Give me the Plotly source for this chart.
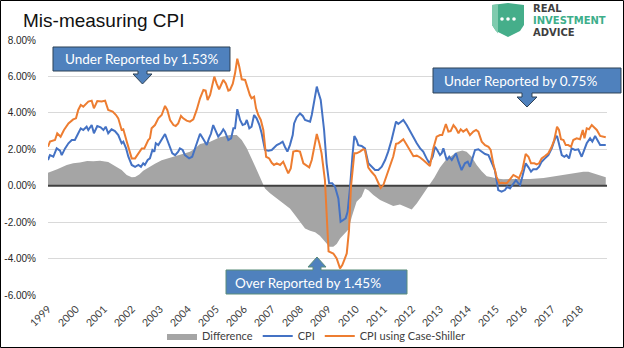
import plotly.graph_objects as go

# ---- series (decimal year, % y/y) ----
CPI_YEARS = [1999.00, 1999.07, 1999.19, 1999.31, 1999.43, 1999.49, 1999.61, 1999.73, 1999.85, 1999.96,
             2000.05, 2000.17, 2000.26, 2000.38, 2000.44, 2000.56, 2000.64, 2000.76, 2000.88, 2000.98,
             2001.06, 2001.15, 2001.27, 2001.39, 2001.51, 2001.63, 2001.69, 2001.79, 2001.87, 2001.99,
             2002.11, 2002.23, 2002.32, 2002.40, 2002.46, 2002.56, 2002.64, 2002.73, 2002.80, 2002.85,
             2002.94, 2003.04, 2003.18, 2003.26, 2003.36, 2003.44, 2003.54, 2003.65, 2003.71, 2003.81,
             2003.89, 2004.04, 2004.15, 2004.25, 2004.35, 2004.43, 2004.55, 2004.67, 2004.75, 2004.82,
             2004.90, 2004.99, 2005.08, 2005.18, 2005.26, 2005.32, 2005.44, 2005.54, 2005.62, 2005.68,
             2005.76, 2005.86, 2005.95, 2006.04, 2006.10, 2006.19, 2006.27, 2006.36, 2006.45, 2006.55,
             2006.63, 2006.75, 2006.87, 2006.99, 2007.05, 2007.17, 2007.29, 2007.38, 2007.46, 2007.55,
             2007.64, 2007.74, 2007.79, 2007.88, 2008.00, 2008.10, 2008.18, 2008.26, 2008.36, 2008.42,
             2008.50, 2008.60, 2008.65, 2008.74, 2008.86, 2008.95, 2009.04, 2009.15, 2009.25, 2009.37,
             2009.45, 2009.55, 2009.63, 2009.70, 2009.79, 2009.87, 2009.94, 2010.02, 2010.08, 2010.20,
             2010.32, 2010.44, 2010.56, 2010.68, 2010.80, 2010.92, 2011.04, 2011.15, 2011.27, 2011.39,
             2011.43, 2011.51, 2011.69, 2011.81, 2011.93, 2012.05, 2012.17, 2012.29, 2012.40, 2012.52,
             2012.62, 2012.74, 2012.82, 2012.90, 2013.00, 2013.06, 2013.12, 2013.24, 2013.33, 2013.42,
             2013.48, 2013.57, 2013.66, 2013.77, 2013.89, 2013.99, 2014.07, 2014.17, 2014.25, 2014.37,
             2014.49, 2014.61, 2014.73, 2014.85, 2014.96, 2015.08, 2015.20, 2015.32, 2015.40, 2015.50,
             2015.62, 2015.71, 2015.80, 2015.86, 2015.94, 2016.06, 2016.16, 2016.25, 2016.33, 2016.45,
             2016.54, 2016.63, 2016.75, 2016.87, 2016.99, 2017.11, 2017.18, 2017.25, 2017.35, 2017.44,
             2017.52, 2017.61, 2017.70, 2017.82, 2017.94, 2018.06, 2018.18, 2018.24, 2018.36, 2018.44,
             2018.54, 2018.63, 2018.72, 2018.83, 2018.92]
CPI = [1.41, 1.68, 1.59, 2.05, 1.92, 1.68, 2.05, 2.33, 2.51, 2.51,
       2.78, 3.15, 3.06, 3.24, 3.06, 3.33, 2.88, 3.28, 3.21, 3.06,
       3.24, 2.88, 3.10, 3.00, 2.78, 2.33, 2.42, 2.05, 1.59, 1.14,
       1.04, 1.14, 1.04, 1.23, 1.14, 1.41, 1.50, 1.96, 1.87, 2.33,
       2.23, 2.51, 2.84, 2.51, 2.05, 1.78, 1.68, 1.87, 2.05, 1.96,
       1.68, 1.50, 1.59, 2.05, 2.42, 2.85, 2.55, 2.24, 2.60, 2.85,
       3.33, 3.06, 2.70, 2.88, 3.10, 2.97, 2.51, 2.60, 3.15, 3.15,
       4.20, 3.61, 3.33, 3.39, 3.61, 3.15, 3.24, 3.88, 3.70, 3.33,
       2.88, 1.96, 1.92, 1.96, 2.05, 2.23, 2.33, 2.42, 2.14, 1.87,
       2.23, 2.78, 3.42, 3.75, 3.97, 3.83, 3.61, 3.57, 3.52, 3.88,
       4.52, 5.44, 5.16, 4.71, 3.06, 1.23, 0.13, 0.13, -0.05, -0.70,
       -1.98, -1.89, -1.79, -1.43, -0.05, 1.59, 2.73, 2.51, 2.23, 2.18,
       2.05, 1.23, 1.04, 0.86, 0.86, 1.04, 1.41, 1.87, 2.51, 3.24,
       3.52, 3.39, 3.61, 3.33, 2.97, 2.69, 2.33, 2.05, 1.87, 1.50,
       1.23, 1.59, 2.14, 1.96, 1.68, 1.78, 2.05, 1.41, 1.59, 1.41,
       1.59, 1.78, 1.32, 0.86, 1.23, 1.32, 1.04, 1.50, 1.96, 2.00,
       1.87, 1.74, 1.68, 1.23, 0.86, -0.24, -0.33, -0.24, -0.05, -0.15,
       0.13, 0.31, 0.13, 0.04, 0.49, 1.23, 1.01, 0.77, 0.90, 0.90,
       1.04, 1.32, 1.50, 1.68, 2.05, 2.60, 2.73, 2.23, 1.68, 1.59,
       1.68, 1.50, 2.05, 1.96, 2.00, 1.59, 2.14, 2.33, 2.60, 2.42,
       2.73, 2.51, 2.23, 2.23, 2.23]

CS_YEARS = [1999.00, 1999.07, 1999.25, 1999.33, 1999.45, 1999.57, 1999.73, 1999.90, 2000.00, 2000.08,
            2000.17, 2000.26, 2000.44, 2000.56, 2000.64, 2000.76, 2000.92, 2001.04, 2001.15, 2001.31,
            2001.43, 2001.51, 2001.63, 2001.69, 2001.83, 2001.99, 2002.11, 2002.23, 2002.35, 2002.44,
            2002.58, 2002.64, 2002.70, 2002.82, 2002.94, 2003.06, 2003.18, 2003.26, 2003.36, 2003.48,
            2003.56, 2003.65, 2003.75, 2003.83, 2003.95, 2004.07, 2004.19, 2004.31, 2004.43, 2004.55,
            2004.63, 2004.70, 2004.79, 2004.87, 2004.94, 2005.02, 2005.11, 2005.18, 2005.26, 2005.35,
            2005.44, 2005.50, 2005.60, 2005.68, 2005.76, 2005.83, 2005.92, 2006.04, 2006.12, 2006.21,
            2006.27, 2006.36, 2006.43, 2006.51, 2006.60, 2006.69, 2006.79, 2006.90, 2006.99, 2007.07,
            2007.17, 2007.29, 2007.40, 2007.50, 2007.58, 2007.67, 2007.76, 2007.88, 2008.00, 2008.12,
            2008.21, 2008.33, 2008.42, 2008.50, 2008.60, 2008.69, 2008.77, 2008.89, 2008.97, 2009.02,
            2009.19, 2009.31, 2009.43, 2009.51, 2009.58, 2009.67, 2009.75, 2009.82, 2009.94, 2010.02,
            2010.14, 2010.26, 2010.32, 2010.44, 2010.56, 2010.68, 2010.80, 2010.88, 2010.98, 2011.10,
            2011.21, 2011.33, 2011.43, 2011.51, 2011.61, 2011.69, 2011.81, 2011.93, 2012.05, 2012.17,
            2012.29, 2012.40, 2012.55, 2012.64, 2012.76, 2012.88, 2013.00, 2013.08, 2013.21, 2013.30,
            2013.38, 2013.48, 2013.57, 2013.66, 2013.74, 2013.83, 2013.95, 2014.07, 2014.19, 2014.29,
            2014.37, 2014.49, 2014.61, 2014.73, 2014.81, 2014.90, 2015.02, 2015.12, 2015.20, 2015.32,
            2015.40, 2015.52, 2015.62, 2015.74, 2015.82, 2015.94, 2016.06, 2016.16, 2016.25, 2016.37,
            2016.45, 2016.54, 2016.63, 2016.75, 2016.87, 2016.99, 2017.08, 2017.18, 2017.25, 2017.32,
            2017.41, 2017.49, 2017.58, 2017.68, 2017.76, 2017.88, 2018.00, 2018.10, 2018.16, 2018.24,
            2018.32, 2018.42, 2018.51, 2018.60, 2018.72, 2018.83, 2018.92]
CPI_CASE_SHILLER = [2.14, 2.42, 2.51, 2.88, 2.69, 3.06, 3.42, 3.64, 3.70, 4.16,
                    4.43, 4.34, 4.62, 4.67, 4.25, 4.65, 4.62, 4.67, 4.16, 4.07,
                    3.88, 3.70, 3.06, 3.10, 2.33, 1.50, 1.50, 1.80, 2.05, 2.05,
                    2.51, 2.60, 3.15, 3.33, 3.70, 3.88, 4.38, 4.16, 3.61, 3.33,
                    3.28, 3.42, 3.83, 3.70, 3.57, 3.52, 3.64, 4.16, 4.80, 5.26,
                    5.22, 4.71, 4.98, 5.53, 5.99, 5.62, 5.29, 5.53, 5.81, 5.62,
                    5.22, 5.26, 5.60, 6.17, 6.97, 6.54, 5.84, 5.81, 5.35, 4.98,
                    4.80, 4.89, 4.25, 3.88, 3.61, 3.06, 1.59, 1.50, 1.26, 1.14,
                    1.23, 1.14, 1.32, 1.01, 0.68, 0.95, 1.87, 1.92, 1.87, 1.23,
                    1.14, 1.01, 1.41, 2.05, 2.84, 2.33, 1.78, 0.31, -2.00, -3.60,
                    -3.72, -3.99, -4.54, -4.36, -4.08, -3.72, -2.44, -0.05, 1.78, 1.78,
                    1.87, 2.01, 1.96, 1.00, 0.75, 0.55, 0.15, -0.12, 0.05, 0.60,
                    1.10, 1.60, 2.30, 2.33, 2.45, 2.55, 2.25, 1.96, 1.62, 1.65,
                    1.55, 1.41, 1.23, 1.08, 2.05, 2.69, 2.78, 2.78, 3.39, 2.97,
                    3.00, 3.33, 3.15, 2.88, 3.10, 2.97, 3.10, 2.78, 2.97, 3.06,
                    2.97, 2.42, 2.23, 2.14, 1.96, 1.23, 0.49, 0.13, 0.16, 0.13,
                    0.16, 0.40, 0.59, 0.49, 0.40, 0.86, 1.74, 1.59, 1.23, 1.23,
                    1.17, 1.23, 1.50, 1.63, 1.78, 2.14, 2.51, 3.24, 3.06, 2.55,
                    2.51, 2.23, 2.23, 2.14, 2.51, 2.60, 2.55, 3.06, 2.60, 3.15,
                    3.10, 3.33, 3.21, 3.06, 2.73, 2.69, 2.66]

DIFF_YEARS = [1999.00, 1999.33, 1999.67, 1999.90, 2000.14, 2000.40, 2000.62, 2000.86, 2001.15, 2001.39,
              2001.63, 2001.81, 2001.99, 2002.11, 2002.26, 2002.40, 2002.58, 2002.82, 2003.06, 2003.30,
              2003.48, 2003.71, 2004.07, 2004.25, 2004.43, 2004.79, 2005.14, 2005.50, 2005.74, 2005.92,
              2006.10, 2006.27, 2006.45, 2006.63, 2006.75, 2006.93, 2007.17, 2007.40, 2007.64, 2007.82,
              2008.00, 2008.18, 2008.36, 2008.54, 2008.71, 2008.89, 2009.05, 2009.19, 2009.31, 2009.43,
              2009.58, 2009.73, 2009.85, 2010.02, 2010.20, 2010.32, 2010.44, 2010.62, 2010.86, 2011.10,
              2011.33, 2011.57, 2011.81, 2011.99, 2012.17, 2012.40, 2012.60, 2012.80, 2013.00, 2013.20,
              2013.40, 2013.60, 2013.80, 2013.95, 2014.13, 2014.31, 2014.49, 2014.67, 2014.85, 2015.02,
              2015.26, 2015.50, 2015.74, 2015.98, 2016.22, 2016.46, 2016.70, 2016.93, 2017.17, 2017.41,
              2017.64, 2017.88, 2018.12, 2018.30, 2018.50, 2018.70, 2018.92]
DIFFERENCE = [0.71, 0.90, 1.14, 1.23, 1.28, 1.36, 1.34, 1.37, 1.30, 1.08,
              0.86, 0.59, 0.46, 0.48, 0.62, 0.82, 1.00, 1.20, 1.40, 1.52,
              1.58, 1.69, 1.87, 2.05, 2.29, 2.42, 2.66, 2.79, 2.79, 2.51,
              2.06, 1.50, 0.86, 0.22, -0.15, -0.42, -0.70, -0.97, -1.25, -1.61,
              -1.98, -2.35, -2.47, -2.55, -2.75, -3.10, -3.35, -3.35, -3.20, -2.90,
              -2.65, -2.40, -1.71, -0.88, -0.60, -0.15, -0.25, -0.51, -0.79, -0.97,
              -1.12, -1.03, -1.19, -1.30, -0.97, -0.42, 0.00, 0.45, 1.00, 1.40,
              1.65, 1.85, 1.94, 1.87, 1.59, 1.14, 0.80, 0.52, 0.46, 0.40,
              0.36, 0.35, 0.35, 0.37, 0.37, 0.38, 0.42, 0.48, 0.54, 0.60,
              0.65, 0.70, 0.76, 0.77, 0.66, 0.58, 0.47]

YEAR_TICKS = list(range(1999, 2019))
Y_TICKS = [-6, -4, -2, 0, 2, 4, 6, 8]

CALLOUTS = ["Under Reported by 1.53%", "Under Reported by 0.75%", "Over Reported by 1.45%"]

# ---- canvas geometry (pixels) ----
W, H = 624, 348
L, R, T, B = 48, 17, 40, 53
X0, X1 = 1999.0, 1999.0 + (W - L - R) / 28.0


def px(xp):
    return (xp - L) / (W - L - R)


def py(yp):
    return (H - B - yp) / (H - T - B)


def path(points):
    pts = [f"{px(a):.5f},{py(b):.5f}" for a, b in points]
    return "M" + " L".join(pts) + " Z"


BLUE = "#4472C4"
ORANGE = "#ED7D31"
GREY = "#A5A5A5"
BOX = "#4F81BD"
TXT = "#404040"

fig = go.Figure()

fig.add_trace(go.Scatter(
    x=DIFF_YEARS, y=DIFFERENCE, name="Difference", mode="lines",
    fill="tozeroy", fillcolor=GREY, line=dict(color=GREY, width=0),
    hoverinfo="skip"))

# horizontal zero axis line drawn over the shaded difference
fig.add_trace(go.Scatter(
    x=[X0, X1], y=[0, 0], mode="lines", showlegend=False,
    line=dict(color="#404040", width=2), hoverinfo="skip"))

fig.add_trace(go.Scatter(
    x=CPI_YEARS, y=CPI, name="CPI", mode="lines",
    line=dict(color=BLUE, width=2)))

fig.add_trace(go.Scatter(
    x=CS_YEARS, y=CPI_CASE_SHILLER, name="CPI using Case-Shiller", mode="lines",
    line=dict(color=ORANGE, width=2)))

shapes = []
# callout boxes with arrows
shapes.append(dict(type="path", xref="paper", yref="paper", layer="above",
                   path=path([(53, 47), (230, 47), (230, 71), (147, 71), (147, 74), (152, 74),
                              (142.5, 84), (133, 74), (138, 74), (138, 71), (53, 71)]),
                   fillcolor=BOX, line=dict(color="#2F4256", width=1)))
shapes.append(dict(type="path", xref="paper", yref="paper", layer="above",
                   path=path([(433, 68), (621, 68), (621, 93), (532, 93), (532, 97), (537, 97),
                              (527, 107), (517, 97), (522, 97), (522, 93), (433, 93)]),
                   fillcolor=BOX, line=dict(color="#2F4256", width=1)))
shapes.append(dict(type="path", xref="paper", yref="paper", layer="above",
                   path=path([(226, 270), (313, 270), (313, 267), (308, 267), (317, 257), (326, 267),
                              (321, 267), (321, 270), (407, 270), (407, 294), (226, 294)]),
                   fillcolor=BOX, line=dict(color="#5B8C7A", width=1)))

# logo shield and dots
shapes.append(dict(type="path", xref="paper", yref="paper", layer="above",
                   path=path([(492, 5), (508, 3), (524, 5), (524, 25), (520, 31), (508, 37),
                              (496, 31), (492, 25)]),
                   fillcolor="#45AE8A", line=dict(width=0)))
shapes.append(dict(type="path", xref="paper", yref="paper", layer="above",
                   path=path([(492, 5), (498, 4.3), (498, 33.5), (496, 31), (492, 25)]),
                   fillcolor="#7FCBAE", line=dict(width=0)))
for cx in (502, 508, 514):
    shapes.append(dict(type="circle", xref="paper", yref="paper", layer="above",
                       x0=px(cx - 1.8), x1=px(cx + 1.8), y0=py(19 + 1.8), y1=py(19 - 1.8),
                       fillcolor="white", line=dict(width=0)))

# outer frame
shapes.append(dict(type="rect", xref="paper", yref="paper", layer="above",
                   x0=px(0.5), x1=px(W - 0.5), y0=py(H - 0.5), y1=py(0.5),
                   line=dict(color="#000000", width=1), fillcolor="rgba(0,0,0,0)"))

LOGO_FONT = dict(family="DejaVu Sans, Liberation Sans", size=10)
annotations = [
    dict(text="Mis-measuring CPI", xref="paper", yref="paper", x=px(21), y=py(20),
         xanchor="left", yanchor="middle", showarrow=False,
         font=dict(family="Liberation Sans, Arial", size=19, color="#111111")),
    dict(text=CALLOUTS[0], xref="paper", yref="paper", x=px(141.5), y=py(59),
         xanchor="center", yanchor="middle", showarrow=False,
         font=dict(family="Lato", size=13.5, color="white")),
    dict(text=CALLOUTS[1], xref="paper", yref="paper", x=px(520), y=py(80.5),
         xanchor="center", yanchor="middle", showarrow=False,
         font=dict(family="Lato", size=13.5, color="white")),
    dict(text=CALLOUTS[2], xref="paper", yref="paper", x=px(308), y=py(282.5),
         xanchor="center", yanchor="middle", showarrow=False,
         font=dict(family="Lato", size=13.5, color="white")),
    dict(text="<b>REAL</b>", xref="paper", yref="paper", x=px(532), y=py(8.5),
         xanchor="left", yanchor="middle", showarrow=False, borderpad=0,
         font=dict(LOGO_FONT, color="#3F3F3F")),
    dict(text="<b>INVESTMENT</b>", xref="paper", yref="paper", x=px(532), y=py(20.5),
         xanchor="left", yanchor="middle", showarrow=False, borderpad=0,
         font=dict(LOGO_FONT, color="#3DAE8A")),
    dict(text="<b>ADVICE</b>", xref="paper", yref="paper", x=px(532), y=py(32.5),
         xanchor="left", yanchor="middle", showarrow=False, borderpad=0,
         font=dict(LOGO_FONT, color="#3F3F3F")),
]

fig.update_layout(
    width=W, height=H, margin=dict(l=L, r=R, t=T, b=B, pad=0, autoexpand=False),
    paper_bgcolor="white", plot_bgcolor="white",
    showlegend=True,
    legend=dict(orientation="h", x=px(316), xanchor="center", y=py(336), yanchor="middle",
                font=dict(family="Lato", size=11, color=TXT), bgcolor="rgba(0,0,0,0)",
                itemwidth=30, tracegroupgap=0),
    shapes=shapes, annotations=annotations,
    hovermode=False,
)

fig.update_xaxes(range=[X0, X1], tickvals=YEAR_TICKS, ticktext=[str(y) for y in YEAR_TICKS],
                 tickangle=-45, showgrid=False, zeroline=False, showline=False, ticks="",
                 tickfont=dict(family="Lato", size=10.5, color=TXT), ticklabelstandoff=5,
                 automargin=False)
fig.update_yaxes(range=[-6, 8], tickvals=Y_TICKS, ticktext=[f"{v:.2f}%" for v in Y_TICKS],
                 showgrid=True, gridcolor="#D9D9D9", gridwidth=1, zeroline=False, showline=False,
                 ticks="", tickfont=dict(family="Liberation Sans, Arial", size=10, color="#262626"),
                 ticklabelstandoff=11, automargin=False)

fig.write_html("out.html")
